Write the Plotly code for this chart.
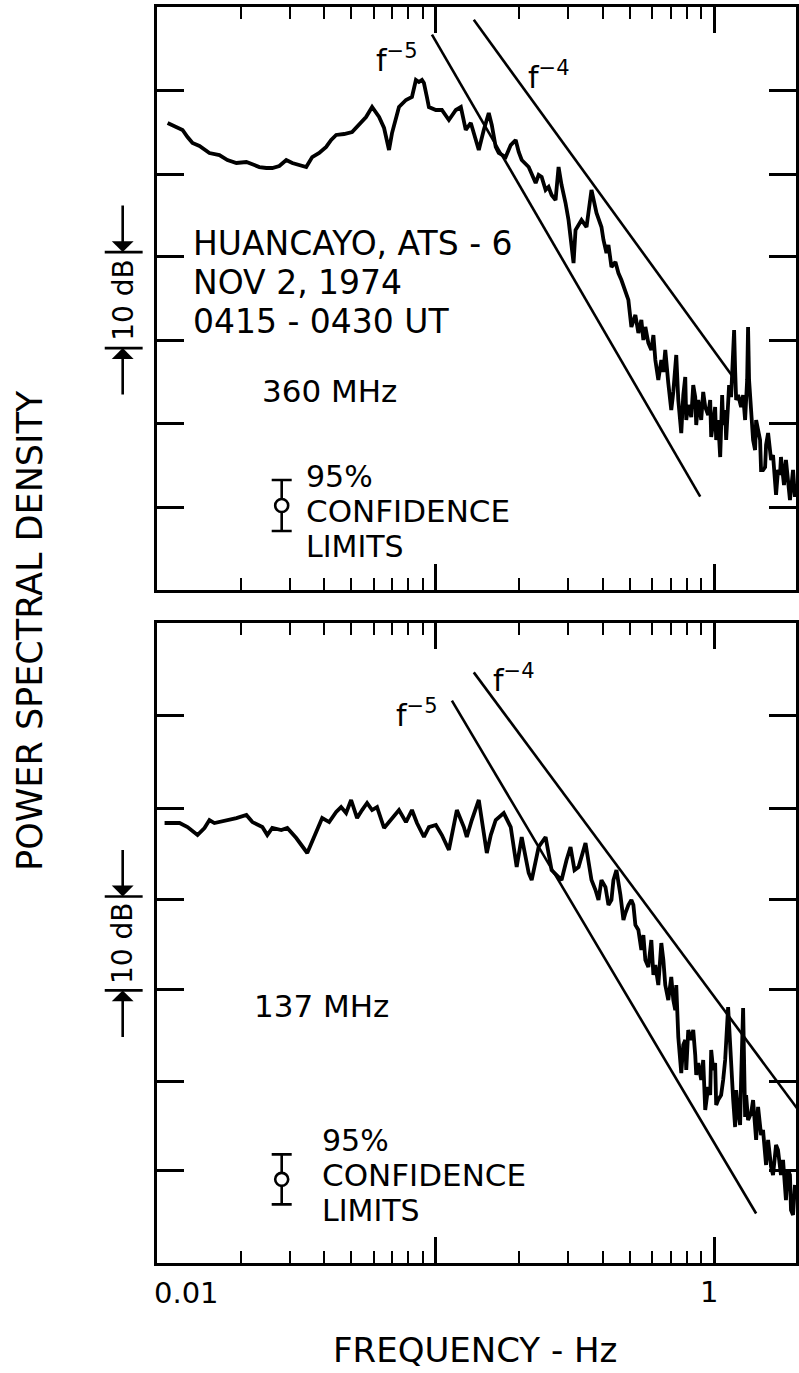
import numpy as np
import plotly.graph_objects as go

W, H = 799, 1373
FONT = "DejaVu Sans"

# ---- 360 MHz spectrum: frequency (Hz) and relative power spectral density (dB)
freq_360 = [0.01095, 0.01160, 0.01239, 0.01291, 0.01345, 0.01425, 0.01547, 0.01680, 0.01795, 0.01933,
            0.02099, 0.02242, 0.02336, 0.02475, 0.02600, 0.02755, 0.02918, 0.03066, 0.03248, 0.03441,
            0.03615, 0.03830, 0.04057, 0.04228, 0.04406, 0.04705, 0.05026, 0.05325, 0.05640, 0.05928,
            0.06126, 0.06281, 0.06545, 0.06652, 0.06818, 0.06989, 0.07223, 0.07403, 0.07843, 0.08240,
            0.08515, 0.08729, 0.08948, 0.09097, 0.09324, 0.09478, 0.1004, 0.1055, 0.1118, 0.1184,
            0.1234, 0.1285, 0.1340, 0.1431, 0.1491, 0.1554, 0.1593, 0.1646, 0.1687, 0.1787,
            0.1863, 0.1941, 0.1990, 0.2040, 0.2161, 0.2289, 0.2346, 0.2405, 0.2485, 0.2547,
            0.2611, 0.2698, 0.2766, 0.2835, 0.2930, 0.3003, 0.3130, 0.3182, 0.3262, 0.3343,
            0.3484, 0.3630, 0.3783, 0.3942, 0.4008, 0.4108, 0.4176, 0.4281, 0.4424, 0.4534,
            0.4648, 0.4803, 0.4923, 0.5047, 0.5216,
            0.5347, 0.5480, 0.5572, 0.5664, 0.5806, 0.5951, 0.6053, 0.6151, 0.6304, 0.6463,
            0.6572, 0.6677, 0.6845, 0.7016, 0.7135, 0.7252, 0.7311, 0.7435, 0.7620, 0.7747,
            0.7875, 0.7940, 0.8072, 0.8275, 0.8412, 0.8551, 0.8622, 0.8767, 0.8985, 0.9134,
            0.9287, 0.9517, 0.9676, 0.9757, 0.9917, 1.008, 1.0167, 1.033, 1.051, 1.068,
            1.077, 1.095, 1.104, 1.122, 1.131, 1.150, 1.170, 1.179, 1.189, 1.199,
            1.219, 1.249, 1.270, 1.291, 1.313, 1.323, 1.334, 1.357, 1.379, 1.402,
            1.414, 1.437, 1.461, 1.473, 1.497, 1.523, 1.535, 1.561, 1.600, 1.626,
            1.652, 1.667, 1.694, 1.722, 1.736, 1.780, 1.809, 1.839, 1.870, 1.886,
            1.918, 1.949]
psd_360 = [48.65, 48.33, 47.92, 47.19, 46.56, 46.25, 45.52, 45.31, 44.79, 44.48,
           44.58, 44.27, 44.06, 43.96, 43.96, 44.17, 44.79, 44.48, 44.27, 44.06,
           45.10, 45.52, 46.15, 46.88, 47.40, 47.50, 47.71, 48.54, 49.27, 50.31,
           49.79, 49.27, 48.13, 47.19, 45.83, 47.60, 49.27, 50.31, 51.04, 51.35,
           53.13, 52.92, 53.13, 52.81, 51.35, 50.31, 50.00, 50.00, 48.96, 50.00,
           50.31, 47.92, 48.65, 45.83, 47.92, 49.69, 48.44, 46.15, 45.52, 45.10,
           46.35, 46.88, 45.63, 44.79, 44.06, 42.40, 43.23, 43.02, 41.67, 41.98,
           41.15, 40.63, 44.06, 42.19, 40.31, 38.54, 34.06, 37.50, 38.02, 38.54,
           37.81, 41.67, 39.27, 37.81, 36.46, 35.10, 35.94, 33.65, 34.17, 33.02,
           32.29, 31.25, 30.21, 27.40, 28.65,
           26.77, 28.13, 26.04, 27.40, 25.73, 25.00, 26.56, 23.96, 21.88, 23.96,
           22.71, 25.00, 21.56, 18.75, 20.63, 22.60, 24.48, 19.79, 16.35, 20.31,
           22.19, 17.71, 19.27, 18.02, 21.35, 20.10, 17.19, 19.79, 17.71, 20.63,
           19.06, 18.23, 19.79, 15.94, 17.71, 19.06, 15.63, 17.71, 13.85, 20.31,
           17.19, 18.75, 15.63, 19.58, 21.35, 20.10, 23.96, 27.08, 22.92, 19.79,
           20.31, 19.06, 20.31, 17.71, 21.88, 27.40, 21.88, 18.02, 15.63, 14.58,
           17.71, 16.67, 15.63, 12.50, 12.50, 12.81, 15.10, 16.35, 13.54, 14.06,
           11.46, 9.90, 12.50, 11.98, 13.85, 10.94, 13.54, 11.77, 9.38, 10.42,
           12.50, 9.69]

# ---- 137 MHz spectrum
freq_137 = [0.01068, 0.01209, 0.01291, 0.01402, 0.01485, 0.01547, 0.01612, 0.01825, 0.01933, 0.02099,
            0.02206, 0.02395, 0.02495, 0.02600, 0.02801, 0.02943, 0.03169, 0.03470, 0.03737, 0.03926,
            0.04159, 0.04406, 0.04590, 0.04784, 0.04985, 0.05238, 0.05458, 0.05688, 0.05928, 0.06176,
            0.06545, 0.06818, 0.07103, 0.07403, 0.07843, 0.08240, 0.08587, 0.09097, 0.09478, 0.1004,
            0.1055, 0.1118, 0.1194, 0.1265, 0.1296, 0.1351, 0.1431, 0.1529, 0.1580, 0.1646,
            0.1759, 0.1863, 0.1957, 0.2040, 0.2161, 0.2215, 0.2346, 0.2485, 0.2611, 0.2721,
            0.2835, 0.2954, 0.3053, 0.3155, 0.3262, 0.3455, 0.3630, 0.3752,
            0.3846, 0.3942, 0.4074, 0.4176, 0.4281, 0.4351, 0.4461, 0.4610, 0.4726, 0.4803,
            0.4923, 0.5047, 0.5131, 0.5216, 0.5347, 0.5480, 0.5572, 0.5664, 0.5806, 0.5951,
            0.6053, 0.6151, 0.6304, 0.6463, 0.6572, 0.6677, 0.6845, 0.7016, 0.7135, 0.7252,
            0.7311, 0.7435, 0.7620, 0.7747, 0.7875, 0.7940, 0.8072, 0.8275, 0.8412, 0.8551,
            0.8622, 0.8767, 0.8985, 0.9134, 0.9287, 0.9517, 0.9676, 0.9757, 0.9917, 1.008,
            1.0167, 1.033, 1.059, 1.077, 1.095, 1.122, 1.141, 1.170, 1.189, 1.199,
            1.219, 1.239, 1.249, 1.270, 1.291, 1.302, 1.323, 1.357, 1.379, 1.402,
            1.414, 1.437, 1.473, 1.497, 1.523, 1.535, 1.561, 1.600, 1.626, 1.652,
            1.667, 1.694, 1.736, 1.766, 1.795, 1.809, 1.839, 1.870, 1.886, 1.918, 1.949]
psd_137 = [46.81, 46.81, 46.38, 45.53, 46.28, 47.13, 46.81, 47.13, 47.34, 47.66,
           46.91, 46.38, 45.53, 46.28, 46.06, 46.28, 45.21, 43.62, 45.74, 47.34,
           46.91, 47.98, 48.51, 47.87, 49.26, 47.34, 48.19, 48.94, 48.19, 48.51,
           46.28, 46.91, 47.66, 48.19, 46.91, 48.19, 46.81, 45.32, 46.38, 46.60,
           45.53, 43.94, 48.19, 46.38, 45.32, 47.13, 49.26, 43.62, 45.53, 47.13,
           47.87, 46.38, 42.13, 45.32, 41.49, 40.74, 44.26, 45.32, 41.81, 41.28,
           40.74, 42.87, 44.26, 41.81, 42.13, 44.68, 40.74, 39.68,
           38.62, 40.74, 40.00, 38.09, 38.62, 40.74, 41.81, 39.15, 36.49, 37.23,
           38.09, 38.62, 38.09, 35.96, 35.43, 33.30, 34.89, 32.23, 31.49, 34.36,
           30.64, 31.70, 29.57, 34.04, 32.23, 29.57, 27.98, 30.43, 27.98, 26.91,
           29.57, 24.04, 20.21, 23.19, 23.72, 20.53, 24.79, 23.72, 24.79, 22.13,
           20.00, 21.28, 19.47, 21.60, 16.28, 18.72, 17.87, 22.66, 20.53, 21.28,
           16.81, 17.34, 17.87, 19.47, 21.60, 27.23, 22.66, 17.34, 14.47, 18.40,
           15.96, 14.68, 19.47, 27.13, 15.53, 17.87, 15.21, 15.96, 17.34, 14.68,
           13.09, 16.60, 13.62, 14.15, 12.02, 10.43, 13.09, 10.21, 9.36, 11.49,
           12.55, 12.02, 9.36, 10.96, 8.51, 6.70, 9.89, 9.36, 5.64, 5.11, 8.30]

# ---- power-law guides: (exponent, anchor freq, anchor level dB, f start, f end)
guides_360 = [(-5, 0.2935, 33.85, 0.0972, 0.891), (-4, 0.4008, 40.78, 0.1373, 1.170)]
guides_137 = [(-5, 0.4025, 32.55, 0.1146, 1.414), (-4, 0.5174, 39.79, 0.1373, 2.4)]

# ---- 95% confidence marker (dB)
conf_half = 2.66
conf_freq = 0.0281
conf_level_360 = 8.8
conf_level_137 = 8.9

# ---- 10 dB scale bar (lower end, dB)
scale_db = 10
scale_base_360 = 25.2
scale_base_137 = 29.0

# ---- axes
yticks_360 = [8.6, 17.3, 26.0, 34.7, 43.3, 52.0]
yticks_137 = [9.8, 19.3, 29.1, 38.7, 48.4, 58.2]
major_f = [0.1, 1]
minor_f = [0.02, 0.03, 0.04, 0.05, 0.06, 0.07, 0.08, 0.09,
           0.2, 0.3, 0.4, 0.5, 0.6, 0.7, 0.8, 0.9]
xrange_log = [-2, 0.2935]
yrange_360 = [0, 60.73]
yrange_137 = [0, 68.09]


def px(x):
    return x / W


def py(y):
    return 1 - y / H


fig = go.Figure()


def add_panel(freq, psd, guides, conf_level, xa, ya):
    fig.add_trace(go.Scatter(x=freq, y=psd, mode="lines", xaxis=xa, yaxis=ya,
                             line=dict(color="black", width=3.8), showlegend=False))
    for expo, fa, la, f0, f1 in guides:
        fg = np.array([f0, f1])
        lvl = la + 10 * expo * np.log10(fg / fa)
        fig.add_trace(go.Scatter(x=fg, y=lvl, mode="lines", xaxis=xa, yaxis=ya,
                                 line=dict(color="black", width=2.6), showlegend=False))
    fig.add_trace(go.Scatter(
        x=[conf_freq], y=[conf_level], mode="markers", xaxis=xa, yaxis=ya,
        marker=dict(symbol="circle", size=13, color="white",
                    line=dict(color="black", width=2.6)),
        error_y=dict(type="data", array=[conf_half], symmetric=True,
                     color="black", thickness=2.6, width=10),
        showlegend=False))


add_panel(freq_360, psd_360, guides_360, conf_level_360, "x", "y")
add_panel(freq_137, psd_137, guides_137, conf_level_137, "x2", "y2")

xdom = [px(157), px(798)]
xcommon = dict(type="log", range=xrange_log, domain=xdom, showline=True, linewidth=3,
               linecolor="black", mirror="ticks", ticks="inside", tickvals=major_f,
               ticklen=26, tickwidth=2.6, tickcolor="black", showticklabels=False,
               showgrid=False, zeroline=False,
               minor=dict(tickmode="array", tickvals=minor_f, ticks="inside", ticklen=12,
                          tickwidth=2.4, tickcolor="black", showgrid=False))
ycommon = dict(showline=True, linewidth=3, linecolor="black", mirror="ticks", ticks="inside",
               ticklen=27, tickwidth=2.6, tickcolor="black", showticklabels=False,
               showgrid=False, zeroline=False, tickmode="array")

fig.update_layout(
    width=W, height=H, margin=dict(l=0, r=0, t=0, b=0),
    paper_bgcolor="white", plot_bgcolor="white", showlegend=False,
    xaxis=dict(anchor="y", **xcommon),
    xaxis2=dict(anchor="y2", **xcommon),
    yaxis=dict(anchor="x", domain=[py(590), py(7)], range=yrange_360, tickvals=yticks_360, **ycommon),
    yaxis2=dict(anchor="x2", domain=[py(1263), py(623)], range=yrange_137, tickvals=yticks_137, **ycommon),
)

ann = []


def text(t, x, y, size, xanchor="left", angle=0):
    ann.append(dict(text=t, x=x, y=y, xref="paper", yref="paper", showarrow=False,
                    xanchor=xanchor, yanchor="middle", textangle=angle,
                    font=dict(family=FONT, size=size, color="black")))


# station / event annotations
text("HUANCAYO, ATS - 6", px(191), py(244), 33)
text("NOV 2, 1974", px(191), py(283), 33)
text("0415 - 0430 UT", px(191), py(321), 33)
text("360 MHz", px(261), py(391), 31)
text("137 MHz", px(253), py(1006), 31)
for x0, rows in [(305, (476, 511, 546)), (321, (1140, 1175, 1210))]:
    text("95%", px(x0), py(rows[0]), 30)
    text("CONFIDENCE", px(x0), py(rows[1]), 31)
    text("LIMITS", px(x0), py(rows[2]), 30)

# power-law labels
text("f<sup>−5</sup>", px(375), py(58), 30)
text("f<sup>−4</sup>", px(527), py(76), 30)
text("f<sup>−5</sup>", px(395), py(713), 30)
text("f<sup>−4</sup>", px(492), py(678), 30)

# axis titles and tick labels
text("POWER SPECTRAL DENSITY", px(30), py(630), 35, xanchor="center", angle=-90)
text("FREQUENCY - Hz", px(476), py(1350), 34, xanchor="center")
text("0.01", px(152), py(1293), 29)
text("1", px(711), py(1292), 29, xanchor="center")

# 10 dB scale bars beside each panel
for yref, base in [("y", scale_base_360), ("y2", scale_base_137)]:
    top = base + scale_db
    for lvl in (base, top):
        fig.add_shape(type="line", xref="paper", yref=yref, x0=px(105), x1=px(143),
                      y0=lvl, y1=lvl, line=dict(color="black", width=2.6))
    ann.append(dict(x=px(123), y=top, xref="paper", yref=yref, ax=0, ay=-48, text="",
                    showarrow=True, arrowhead=1, arrowsize=1.4, arrowwidth=2.6,
                    arrowcolor="black", standoff=0))
    ann.append(dict(x=px(123), y=base, xref="paper", yref=yref, ax=0, ay=48, text="",
                    showarrow=True, arrowhead=1, arrowsize=1.4, arrowwidth=2.6,
                    arrowcolor="black", standoff=0))
    ann.append(dict(text="10 dB", x=px(123), y=base + scale_db / 2, xref="paper", yref=yref,
                    showarrow=False, xanchor="center", yanchor="middle", textangle=-90,
                    font=dict(family=FONT, size=28, color="black")))

fig.update_layout(annotations=ann)
fig.write_html("out.html")
